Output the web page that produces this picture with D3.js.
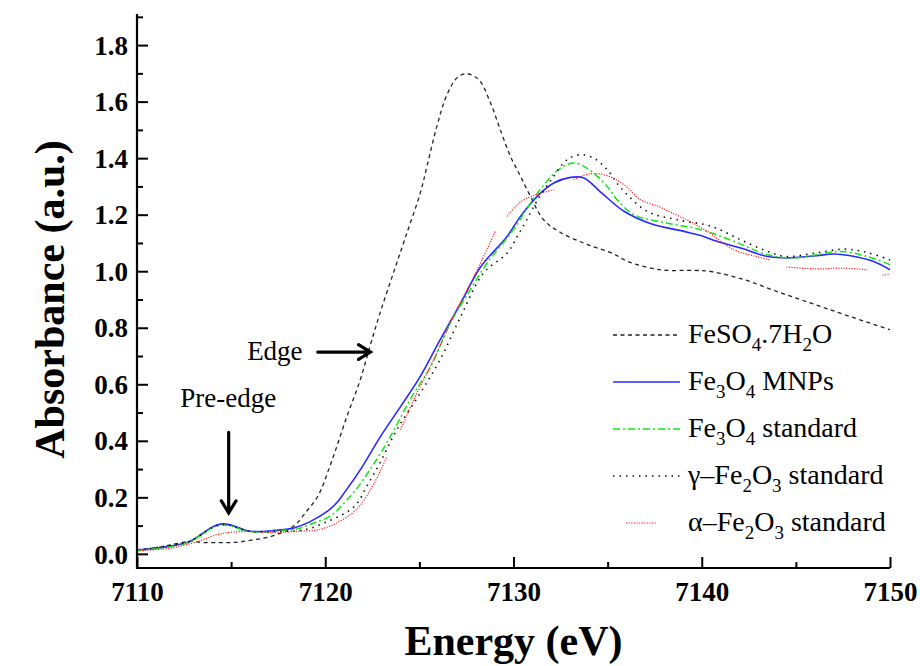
<!DOCTYPE html>
<html>
<head>
<meta charset="utf-8">
<script src="https://cdn.jsdelivr.net/npm/d3@7"></script>
<style>
  body { margin: 0; background: #fff; }
  svg { display: block; }
</style>
</head>
<body>
<div id="chart"></div>
<script>
// Energy (eV) / absorbance (a.u.), one pair per spectrum
const feso4E = [7110, 7111, 7111.8, 7112.8, 7113.5, 7114.5, 7115.3, 7116.2, 7117.1, 7118.0, 7118.5, 7119.0, 7119.6, 7120.3, 7121.15, 7121.86, 7122.4, 7122.9, 7123.6, 7124.26, 7125.05, 7125.4, 7125.94, 7126.47, 7127.0, 7127.5, 7128.15, 7128.78, 7129.3, 7129.84, 7130.37, 7130.9, 7131.6, 7132.5, 7133.9, 7135.3, 7136.05, 7137.8, 7139.6, 7140.5, 7142.25, 7144.0, 7145.8, 7147.6, 7150];
const feso4A = [0.014, 0.022, 0.032, 0.044, 0.040, 0.040, 0.041, 0.050, 0.061, 0.085, 0.109, 0.150, 0.203, 0.320, 0.486, 0.616, 0.740, 0.850, 0.990, 1.120, 1.277, 1.370, 1.515, 1.625, 1.684, 1.699, 1.678, 1.595, 1.500, 1.406, 1.336, 1.265, 1.182, 1.137, 1.095, 1.062, 1.035, 1.005, 1.003, 0.999, 0.970, 0.928, 0.887, 0.846, 0.793];

const mnpE = [7110, 7111.06, 7112.0, 7112.8, 7113.5, 7114.0, 7114.5, 7115.0, 7115.85, 7116.7, 7117.6, 7118.3, 7119.2, 7120.1, 7120.6, 7121.0, 7121.86, 7122.93, 7124.0, 7125.05, 7126.1, 7127.2, 7128.24, 7129.66, 7130.37, 7131.26, 7132.14, 7133.03, 7133.74, 7134.63, 7135.87, 7137.3, 7139.06, 7139.95, 7140.8, 7142.07, 7143.5, 7144.5, 7146.1, 7147.0, 7147.9, 7149.1, 7150];
const mnpA = [0.014, 0.020, 0.030, 0.044, 0.073, 0.095, 0.106, 0.102, 0.082, 0.079, 0.085, 0.091, 0.114, 0.150, 0.180, 0.215, 0.297, 0.415, 0.521, 0.628, 0.757, 0.887, 1.014, 1.123, 1.194, 1.265, 1.312, 1.332, 1.330, 1.280, 1.212, 1.168, 1.141, 1.126, 1.106, 1.082, 1.052, 1.047, 1.055, 1.061, 1.055, 1.035, 1.005];

const magE = [7110, 7111, 7112, 7112.8, 7113.5, 7114.0, 7114.5, 7115.0, 7115.85, 7116.7, 7117.6, 7118.5, 7119.2, 7120.3, 7121.0, 7121.6, 7122.4, 7123.46, 7124.5, 7125.6, 7126.65, 7127.7, 7128.6, 7130.0, 7130.9, 7131.8, 7132.5, 7133.2, 7133.9, 7134.98, 7135.5, 7136.4, 7138.17, 7139.95, 7141.7, 7143.5, 7144.9, 7146.1, 7147.4, 7148.8, 7150];
const magA = [0.012, 0.018, 0.028, 0.042, 0.070, 0.092, 0.102, 0.098, 0.080, 0.077, 0.082, 0.088, 0.105, 0.135, 0.180, 0.225, 0.300, 0.415, 0.545, 0.663, 0.817, 0.934, 1.029, 1.147, 1.241, 1.320, 1.365, 1.383, 1.365, 1.300, 1.253, 1.200, 1.170, 1.147, 1.106, 1.058, 1.047, 1.058, 1.070, 1.052, 1.023];

const maghE = [7110, 7111, 7112, 7112.8, 7113.5, 7114.0, 7114.5, 7115.0, 7115.85, 7116.7, 7117.6, 7118.9, 7120.1, 7121.2, 7121.7, 7122.2, 7122.9, 7123.8, 7125.05, 7126.1, 7127.2, 7128.4, 7129.66, 7130.2, 7130.7, 7131.26, 7132.14, 7132.85, 7133.56, 7134.27, 7134.98, 7135.7, 7137.1, 7138.7, 7140.5, 7142.07, 7143.5, 7144.5, 7146.0, 7147.6, 7148.8, 7150];
const maghA = [0.012, 0.022, 0.032, 0.044, 0.072, 0.093, 0.104, 0.100, 0.081, 0.078, 0.080, 0.085, 0.114, 0.150, 0.179, 0.238, 0.321, 0.439, 0.569, 0.687, 0.840, 0.993, 1.064, 1.123, 1.182, 1.250, 1.336, 1.395, 1.412, 1.400, 1.359, 1.295, 1.212, 1.182, 1.159, 1.111, 1.070, 1.052, 1.064, 1.078, 1.066, 1.040];

// null = break in the plotted trace
const hemE = [7110, 7111, 7111.8, 7112.6, 7113.5, 7114.2, 7115.1, 7116.2, 7117.1, 7118.3, 7119.6, 7120.6, 7121.7, 7122.6, 7123.27, 7123.6, 7124.0, 7124.7, 7125.76, 7126.8, 7127.5, 7128.07, 7129.04, 7129.35, 7129.66, 7130.37, 7131.26, 7132.14, 7132.6, 7133.2, 7134.1, 7134.98, 7135.87, 7136.75, 7137.7, 7138.3, 7139.2, 7140.3, 7141.7, 7142.9, 7143.6, 7144.0, 7144.5, 7146.1, 7147.4, 7148.8, 7149.3, 7149.6, 7150];
const hemA = [0.010, 0.015, 0.020, 0.032, 0.050, 0.067, 0.077, 0.079, 0.075, 0.079, 0.085, 0.109, 0.160, 0.250, 0.344, null, 0.439, 0.545, 0.687, 0.840, 0.930, 1.005, 1.141, null, 1.194, 1.245, 1.272, 1.288, null, 1.324, 1.345, 1.338, 1.306, 1.253, 1.229, 1.210, 1.182, 1.141, 1.076, 1.052, 1.040, null, 1.015, 1.008, 1.011, 1.005, null, 0.985, 0.990];

const xTicks = [7110, 7120, 7130, 7140, 7150];
const yTicks = [0.0, 0.2, 0.4, 0.6, 0.8, 1.0, 1.2, 1.4, 1.6, 1.8];

// legend names as [text, isSubscript] pieces
const series = [
  { name: [["FeSO"], ["4", 1], [".7H"], ["2", 1], ["O"]], e: feso4E, a: feso4A, color: "#222", width: 1.3, dash: "4,3.5" },
  { name: [["Fe"], ["3", 1], ["O"], ["4", 1], [" MNPs"]], e: mnpE, a: mnpA, color: "#2a2aff", width: 1.6, dash: null },
  { name: [["Fe"], ["3", 1], ["O"], ["4", 1], [" standard"]], e: magE, a: magA, color: "#14e614", width: 1.5, dash: "7,3,2,3" },
  { name: [["\u03b3\u2013Fe"], ["2", 1], ["O"], ["3", 1], [" standard"]], e: maghE, a: maghA, color: "#111", width: 1.6, dash: "1.5,5" },
  { name: [["\u03b1\u2013Fe"], ["2", 1], ["O"], ["3", 1], [" standard"]], e: hemE, a: hemA, color: "#ff2020", width: 1.2, dash: "1.2,1.4" }
];

const FONT = '"Liberation Serif"';

const width = 920, height = 666;
const margin = { left: 137, right: 30, top: 14, bottom: 98 };

const svg = d3.select("#chart").append("svg")
  .attr("width", width)
  .attr("height", height);

const x = d3.scaleLinear().domain([7110, 7150]).range([margin.left, width - margin.right]);
const y = d3.scaleLinear().domain([-0.05, 1.91]).range([height - margin.bottom, margin.top]);

// curves
const line = d3.line()
  .defined(d => d.a != null)
  .x(d => x(d.e))
  .y(d => y(d.a))
  .curve(d3.curveCatmullRom);

series.forEach(s => {
  const pts = s.e.map((e, i) => ({ e, a: s.a[i] }));
  svg.append("path")
    .datum(pts)
    .attr("fill", "none")
    .attr("stroke", s.color)
    .attr("stroke-width", s.width)
    .attr("stroke-dasharray", s.dash)
    .attr("d", line);
});

// axes, ticks pointing inward
const xAxis = svg.append("g").attr("transform", `translate(0,${y(-0.05)})`);
xAxis.call(d3.axisBottom(x).tickValues(d3.range(7110, 7151, 5)).tickSize(-6).tickFormat(""));
xAxis.selectAll(".tick line").filter(d => xTicks.includes(d)).attr("y2", -11);
xAxis.selectAll(".tick").filter(d => xTicks.includes(d)).append("text")
  .attr("y", 33)
  .attr("fill", "#000")
  .text(d => d);

const yAxis = svg.append("g").attr("transform", `translate(${margin.left},0)`);
yAxis.call(d3.axisLeft(y).tickValues(d3.range(0, 19.5, 1).map(v => v / 10)).tickSize(-6).tickFormat(""));
yAxis.selectAll(".tick line").filter(d => Math.round(d * 10) % 2 === 0).attr("x2", 11);
yAxis.selectAll(".tick").filter(d => yTicks.some(t => Math.abs(t - d) < 1e-6)).append("text")
  .attr("x", -9)
  .attr("dy", "0.34em")
  .attr("fill", "#000")
  .text(d => d3.format(".1f")(d));

[xAxis, yAxis].forEach(g => {
  g.attr("font-family", null);
  g.select(".domain").remove();
  g.selectAll(".tick line").attr("stroke-width", 2);
  g.selectAll("text")
    .style("font-family", FONT)
    .attr("font-weight", "bold")
    .attr("font-size", 27);
});
svg.append("path")
  .attr("d", `M${x(7110)},${y(1.91)}V${y(-0.05)}H${x(7150)}`)
  .attr("fill", "none")
  .attr("stroke", "#000")
  .attr("stroke-width", 2.2);

// axis titles
svg.append("text")
  .attr("x", (x(7110) + x(7150)) / 2)
  .attr("y", 655)
  .attr("text-anchor", "middle")
  .style("font-family", FONT)
  .attr("font-weight", "bold")
  .attr("font-size", 42)
  .text("Energy (eV)");

svg.append("text")
  .attr("transform", `translate(64,${y(0.9)}) rotate(-90)`)
  .attr("text-anchor", "middle")
  .style("font-family", FONT)
  .attr("font-weight", "bold")
  .attr("font-size", 42)
  .text("Absorbance (a.u.)");

// legend
const legend = svg.append("g");
series.forEach((s, i) => {
  const yy = 343 + i * 47;
  const x0 = i === 4 ? 626 : 613, x1 = i === 4 ? 656 : 680;
  legend.append("line")
    .attr("x1", x0).attr("x2", x1)
    .attr("y1", yy - 8).attr("y2", yy - 8)
    .attr("stroke", s.color)
    .attr("stroke-width", s.width)
    .attr("stroke-dasharray", s.dash);
  const t = legend.append("text")
    .attr("x", 688)
    .attr("y", yy)
    .style("font-family", FONT)
    .attr("font-size", 28);
  let shift = 0;
  s.name.forEach(([txt, sub]) => {
    const target = sub ? 8 : 0;
    t.append("tspan")
      .attr("font-size", sub ? 19 : 28)
      .attr("dy", target - shift)
      .text(txt);
    shift = target;
  });
});

// annotations
function arrow(x1, y1, x2, y2) {
  const ang = Math.atan2(y2 - y1, x2 - x1), h = 14, w = 0.55;
  const p1 = [x2 - h * Math.cos(ang - w), y2 - h * Math.sin(ang - w)];
  const p2 = [x2 - h * Math.cos(ang + w), y2 - h * Math.sin(ang + w)];
  svg.append("path")
    .attr("d", `M${x1},${y1}L${x2},${y2}M${p1[0]},${p1[1]}L${x2},${y2}L${p2[0]},${p2[1]}`)
    .attr("fill", "none")
    .attr("stroke", "#000")
    .attr("stroke-width", 3.2)
    .attr("stroke-linecap", "round");
}

svg.append("text")
  .attr("x", x(7115.85)).attr("y", y(0.685))
  .style("font-family", FONT)
  .attr("font-size", 27)
  .text("Edge");
arrow(x(7119.6), y(0.714), x(7122.4), y(0.714));

svg.append("text")
  .attr("x", x(7112.3)).attr("y", y(0.52))
  .style("font-family", FONT)
  .attr("font-size", 27)
  .text("Pre-edge");
arrow(x(7114.87), y(0.43), x(7114.87), y(0.145));
</script>
</body>
</html>
